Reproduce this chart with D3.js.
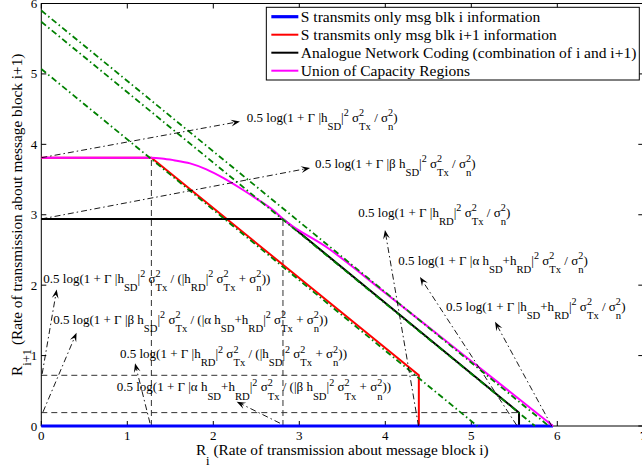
<!DOCTYPE html>
<html>
<head>
<meta charset="utf-8">
<title>Capacity regions</title>
<script src="https://cdn.jsdelivr.net/npm/d3@7"></script>
<style>
  html, body { margin: 0; padding: 0; background: #fff; }
  svg text { white-space: pre; }
</style>
</head>
<body>
<svg id="chart" width="642" height="466"></svg>
<script>
// ---- values ----
var xTicks = [0, 1, 2, 3, 4, 5, 6, 7];
var yTicks = [0, 1, 2, 3, 4, 5, 6];

// S sends only block i
var blueRi = [0, 5.95];
var blueRn = [0, 0];
// S sends only block i+1
var redRi = [0, 1.28, 4.39, 4.39];
var redRn = [3.81, 3.81, 0.72, 0];
// analogue network coding
var blackRi = [0, 2.81, 5.555, 5.555];
var blackRn = [2.94, 2.94, 0.19, 0];
// union of the regions
var unionRi = [0, 1.28, 1.40, 1.54, 1.73, 1.92, 2.12, 2.31, 2.50, 2.70, 2.81, 3.34, 4.00, 4.64, 5.30, 5.95];
var unionRn = [3.81, 3.81, 3.80, 3.775, 3.73, 3.645, 3.52, 3.38, 3.23, 3.06, 2.94, 2.52, 1.89, 1.27, 0.63, 0];
// sum-rate bounds R_i + R_i+1 = c (green dash-dot)
var sumBounds = [5.07, 5.74, 5.90];

var legendNames = [
  'S transmits only msg blk i information',
  'S transmits only msg blk i+1 information',
  'Analogue Network Coding (combination of i and i+1)',
  'Union of Capacity Regions'
];

// annotation labels, arrow tail / head and label anchor (data units)
var noteLabels = [
  '0.5 log(1 + Γ |h_{SD}|^2 σ^2_{Tx} / σ^2_n)',
  '0.5 log(1 + Γ |β h_{SD}|^2 σ^2_{Tx} / σ^2_n)',
  '0.5 log(1 + Γ |h_{RD}|^2 σ^2_{Tx} / σ^2_n)',
  '0.5 log(1 + Γ |α h_{SD}+h_{RD}|^2 σ^2_{Tx} / σ^2_n)',
  '0.5 log(1 + Γ |h_{SD}+h_{RD}|^2 σ^2_{Tx} / σ^2_n)',
  '0.5 log(1 + Γ |h_{SD}|^2 σ^2_{Tx} / (|h_{RD}|^2 σ^2_{Tx} + σ^2_n))',
  '0.5 log(1 + Γ |β h_{SD}|^2 σ^2_{Tx} / (|α h_{SD}+h_{RD}|^2 σ^2_{Tx} + σ^2_n))',
  '0.5 log(1 + Γ |h_{RD}|^2 σ^2_{Tx} / (|h_{SD}|^2 σ^2_{Tx} + σ^2_n))',
  '0.5 log(1 + Γ |α h_{SD}+h_{RD}|^2 σ^2_{Tx} / (|β h_{SD}|^2 σ^2_{Tx} + σ^2_n))'
];
var noteTail = [[0, 3.81], [0, 2.94], [4.386, 0], [5.528, 0.01], [5.935, 0],
                [0.01, 0.74], [0.02, 0.2], [1.264, 0.04], [2.775, 0.04]];
var noteHead = [[2.31, 4.325], [3.125, 3.665], [3.996, 2.784], [4.403, 2.116], [5.276, 1.48],
                [0.179, 1.94], [0.41, 1.325], [1.09, 0.89], [2.272, 0.345]];
var noteAt = [[2.39, 4.32], [3.182, 3.665], [3.686, 2.966], [4.151, 2.287], [4.706, 1.638],
              [0.023, 2.03], [0.14, 1.445], [0.915, 0.96], [0.877, 0.49]];

// ---- drawing ----
var serif = '"Liberation Serif", "Times New Roman", serif';
var svg = d3.select('#chart');
var pL = 41.3, pR = 643.3, pT = 3.5, pB = 426;

var x = d3.scaleLinear().domain([0, 7]).range([pL, pR]);
var y = d3.scaleLinear().domain([0, 6]).range([pB, pT]);

function zip(a, b) { return a.map(function (v, i) { return [v, b[i]]; }); }
var line = d3.line().x(function (d) { return x(d[0]); }).y(function (d) { return y(d[1]); });
var curve = d3.line().x(function (d) { return x(d[0]); }).y(function (d) { return y(d[1]); })
  .curve(d3.curveMonotoneX);

// tiny TeX-ish parser: ^ and _ with {..} or single char, stacked when adjacent
function parseTex(s) {
  var out = [], buf = '', i = 0;
  function arg() {
    if (s[i] === '{') { var j = s.indexOf('}', i); var a = s.slice(i + 1, j); i = j + 1; return a; }
    return s[i++];
  }
  while (i < s.length) {
    var c = s[i];
    if (c === '^' || c === '_') {
      if (buf) { out.push({ t: buf }); buf = ''; }
      var item = {};
      while (s[i] === '^' || s[i] === '_') {
        var k = s[i++] === '^' ? 'sup' : 'sub';
        item[k] = arg();
      }
      out.push(item);
    } else { buf += c; i++; }
  }
  if (buf) out.push({ t: buf });
  return out;
}

function rich(parent, tex, size) {
  var t = parent.append('text')
    .attr('font-family', serif).attr('font-size', size).attr('fill', '#000')
    .attr('xml:space', 'preserve');
  var cx = 0;
  parseTex(tex).forEach(function (p) {
    if (p.t !== undefined) {
      var s = t.append('tspan').attr('x', cx).attr('y', 0).text(p.t);
      cx += s.node().getComputedTextLength();
    } else {
      var w = 0;
      if (p.sup) {
        var a = t.append('tspan').attr('x', cx).attr('y', -0.45 * size).attr('font-size', 0.78 * size).text(p.sup);
        w = Math.max(w, a.node().getComputedTextLength());
      }
      if (p.sub) {
        var b = t.append('tspan').attr('x', cx).attr('y', 0.62 * size).attr('font-size', 0.82 * size).text(p.sub);
        w = Math.max(w, b.node().getComputedTextLength());
      }
      cx += w;
    }
  });
  return cx;
}

// dashed guide lines at the corner points
var guides = svg.append('g').attr('fill', 'none').attr('stroke', '#333')
  .attr('stroke-width', 1).attr('stroke-dasharray', '6,4');
[[redRi[1], redRn[1]], [blackRi[1], blackRn[1]]].forEach(function (p) {
  guides.append('path').attr('d', line([[p[0], 0], p]));
});
[[redRi[2], redRn[2]], [blackRi[2], blackRn[2]]].forEach(function (p) {
  guides.append('path').attr('d', line([[0, p[1]], p]));
});

// axis box + ticks
var ax = svg.append('g').attr('stroke', '#000').attr('stroke-width', 1).attr('fill', 'none');
ax.append('rect').attr('x', pL).attr('y', pT).attr('width', pR - pL).attr('height', pB - pT);
xTicks.forEach(function (v) {
  ax.append('line').attr('x1', x(v)).attr('x2', x(v)).attr('y1', pB).attr('y2', pB - 5);
  ax.append('line').attr('x1', x(v)).attr('x2', x(v)).attr('y1', pT).attr('y2', pT + 5);
});
yTicks.forEach(function (v) {
  ax.append('line').attr('x1', pL).attr('x2', pL + 5).attr('y1', y(v)).attr('y2', y(v));
  ax.append('line').attr('x1', pR).attr('x2', pR - 5).attr('y1', y(v)).attr('y2', y(v));
});
svg.append('g').selectAll('text').data(xTicks).enter().append('text')
  .attr('x', function (d) { return x(d); }).attr('y', pB + 13.5)
  .attr('text-anchor', 'middle').attr('font-family', serif).attr('font-size', 13)
  .text(function (d) { return d; });
svg.append('g').selectAll('text').data(yTicks).enter().append('text')
  .attr('x', pL - 4).attr('y', function (d) { return y(d) + 4.5; })
  .attr('text-anchor', 'end').attr('font-family', serif).attr('font-size', 13)
  .text(function (d) { return d; });

// series
var plot = svg.append('g').attr('fill', 'none');
plot.append('path').attr('d', line(zip(redRi, redRn))).attr('stroke', '#ff0000').attr('stroke-width', 2);
plot.append('path').attr('d', line(zip(blackRi, blackRn))).attr('stroke', '#000').attr('stroke-width', 2);
plot.append('path').attr('d', line(zip(blueRi, blueRn))).attr('stroke', '#0000ff').attr('stroke-width', 3.2);
plot.append('path').attr('d', curve(zip(unionRi, unionRn)))
  .attr('stroke', '#ff00ff').attr('stroke-width', 2);
sumBounds.forEach(function (c) {
  plot.append('path').attr('d', line([[0, c], [c, 0]]))
    .attr('stroke', '#008000').attr('stroke-width', 1.8).attr('stroke-dasharray', '6,3,1.5,3');
});

// annotation arrows
var notes = svg.append('g');
noteLabels.forEach(function (lab, i) {
  var t = [x(noteTail[i][0]), y(noteTail[i][1])];
  var h = [x(noteHead[i][0]), y(noteHead[i][1])];
  var dx = h[0] - t[0], dy = h[1] - t[1], L = Math.sqrt(dx * dx + dy * dy);
  var ux = dx / L, uy = dy / L, nx = -uy, ny = ux;
  var len = 9, wid = 3.4;
  var notch = [h[0] - ux * len * 0.6, h[1] - uy * len * 0.6];
  notes.append('line').attr('x1', t[0]).attr('y1', t[1]).attr('x2', notch[0]).attr('y2', notch[1])
    .attr('stroke', '#000').attr('stroke-width', 0.9).attr('stroke-dasharray', '6,3,1.5,3');
  var pts = [h,
    [h[0] - ux * len + nx * wid, h[1] - uy * len + ny * wid],
    notch,
    [h[0] - ux * len - nx * wid, h[1] - uy * len - ny * wid]];
  notes.append('path').attr('d', 'M' + pts.join('L') + 'Z').attr('fill', '#000');
  var g = notes.append('g').attr('transform', 'translate(' + x(noteAt[i][0]) + ',' + y(noteAt[i][1]) + ')');
  rich(g, lab, 13);
});

// legend
var lg = svg.append('g');
var lgText = lg.append('g');
var maxW = 0;
legendNames.forEach(function (n, i) {
  var tt = lgText.append('text').attr('x', 0).attr('y', i * 18 + 5)
    .attr('font-family', serif).attr('font-size', 15.5).text(n);
  maxW = Math.max(maxW, tt.node().getComputedTextLength());
});
var boxW = 34.5 + maxW + 3, boxX = pR - 4 - boxW, boxY = pT + 3.8;
lg.insert('rect', ':first-child').attr('x', boxX).attr('y', boxY).attr('width', boxW).attr('height', 72.7)
  .attr('fill', '#fff').attr('stroke', '#000').attr('stroke-width', 1);
lgText.attr('transform', 'translate(' + (boxX + 34.5) + ',' + (boxY + 9.4) + ')');
var lgColors = ['#0000ff', '#ff0000', '#000000', '#ff00ff'];
var lgWidths = [3.2, 2, 2, 2];
lgColors.forEach(function (c, i) {
  lg.append('line').attr('x1', boxX + 5).attr('x2', boxX + 32)
    .attr('y1', boxY + 9.4 + i * 18).attr('y2', boxY + 9.4 + i * 18)
    .attr('stroke', c).attr('stroke-width', lgWidths[i]);
});

// axis titles
var xt = svg.append('g');
var xw = rich(xt, 'R_i (Rate of transmission about message block i)', 15.3);
xt.attr('transform', 'translate(' + ((pL + pR) / 2 - xw / 2) + ',455)');
var yt = svg.append('g');
var yw = rich(yt, 'R_{i+1} (Rate of transmission about message block i+1)', 15.3);
yt.attr('transform', 'translate(21.5,' + ((pT + pB) / 2 + yw / 2) + ') rotate(-90)');
</script>
</body>
</html>
